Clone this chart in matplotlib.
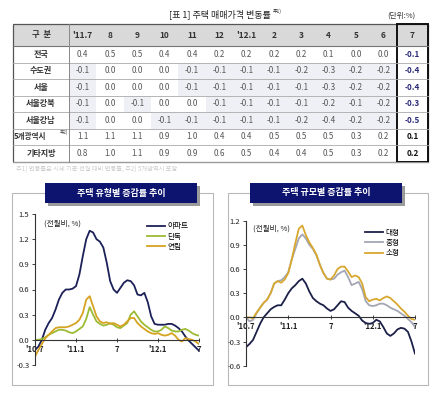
import numpy as np
import matplotlib
matplotlib.use('Agg')
import matplotlib.pyplot as plt
from matplotlib.patches import Rectangle

plt.rcParams['font.family'] = ['Noto Sans CJK KR', 'DejaVu Sans']

# table data
months = ["'11.7", "8", "9", "10", "11", "12", "'12.1", "2", "3", "4", "5", "6"]
last_month = "7"
regions = ["전국", "수도권", "서울", "서울강북", "서울강남", "5개광역시", "기타지방"]
table_vals = [
    [0.4, 0.5, 0.5, 0.4, 0.4, 0.2, 0.2, 0.2, 0.2, 0.1, 0.0, 0.0],
    [-0.1, 0.0, 0.0, 0.0, -0.1, -0.1, -0.1, -0.1, -0.2, -0.3, -0.2, -0.2],
    [-0.1, 0.0, 0.0, 0.0, -0.1, -0.1, -0.1, -0.1, -0.1, -0.3, -0.2, -0.2],
    [-0.1, 0.0, -0.1, 0.0, 0.0, -0.1, -0.1, -0.1, -0.1, -0.2, -0.1, -0.2],
    [-0.1, 0.0, 0.0, -0.1, -0.1, -0.1, -0.1, -0.1, -0.2, -0.4, -0.2, -0.2],
    [1.1, 1.1, 1.1, 0.9, 1.0, 0.4, 0.4, 0.5, 0.5, 0.5, 0.3, 0.2],
    [0.8, 1.0, 1.1, 0.9, 0.9, 0.6, 0.5, 0.4, 0.4, 0.5, 0.3, 0.2],
]
last_vals = [-0.1, -0.4, -0.4, -0.3, -0.5, 0.1, 0.2]

# chart data, read every half month from '10.7 to '12.7
tick_pos = [0, 6, 12, 18, 24]
tick_labels = ["'10.7", "'11.1", "7", "'12.1", "7"]

apt = [-0.12, -0.08, 0.0, 0.12, 0.2, 0.26, 0.36, 0.48, 0.56, 0.6, 0.6, 0.61, 0.64,
       0.78, 1.0, 1.2, 1.3, 1.28, 1.2, 1.17, 1.1, 0.92, 0.7, 0.6, 0.56, 0.62, 0.68,
       0.71, 0.7, 0.65, 0.54, 0.53, 0.56, 0.45, 0.28, 0.19, 0.18, 0.18, 0.18, 0.19,
       0.19, 0.17, 0.14, 0.1, 0.04, -0.01, -0.05, -0.09, -0.13]
house = [0.0, 0.0, 0.01, 0.03, 0.06, 0.08, 0.1, 0.12, 0.12, 0.11, 0.09, 0.08, 0.1,
         0.13, 0.16, 0.25, 0.39, 0.3, 0.22, 0.19, 0.17, 0.18, 0.2, 0.18, 0.15, 0.14,
         0.17, 0.2, 0.3, 0.34, 0.28, 0.22, 0.18, 0.15, 0.12, 0.1, 0.1, 0.12, 0.16,
         0.14, 0.11, 0.1, 0.1, 0.12, 0.13, 0.11, 0.08, 0.06, 0.05]
row_house = [-0.2, -0.12, -0.05, 0.02, 0.06, 0.1, 0.14, 0.15, 0.15, 0.15, 0.16, 0.18,
             0.2, 0.24, 0.32, 0.48, 0.52, 0.4, 0.28, 0.22, 0.2, 0.21, 0.19, 0.2, 0.18,
             0.16, 0.18, 0.22, 0.26, 0.26, 0.2, 0.16, 0.13, 0.1, 0.08, 0.07, 0.08, 0.06,
             0.05, 0.06, 0.08, 0.05, 0.0, -0.02, 0.02, 0.01, 0.0, -0.02, -0.05]

large = [-0.37, -0.33, -0.28, -0.18, -0.08, 0.0, 0.05, 0.1, 0.13, 0.15, 0.15, 0.22,
         0.3, 0.36, 0.4, 0.45, 0.48, 0.42, 0.32, 0.24, 0.2, 0.17, 0.15, 0.11, 0.08,
         0.1, 0.15, 0.2, 0.19, 0.12, 0.08, 0.05, 0.02, -0.04, -0.07, -0.08, -0.07,
         -0.03, -0.05, -0.12, -0.2, -0.23, -0.2, -0.15, -0.13, -0.14, -0.18, -0.3, -0.45]
medium = [0.0, -0.05, -0.03, 0.05, 0.12, 0.18, 0.22, 0.3, 0.42, 0.45, 0.46, 0.5,
          0.56, 0.72, 0.85, 0.98, 1.03, 0.98, 0.9, 0.85, 0.77, 0.65, 0.55, 0.48, 0.47,
          0.48, 0.53, 0.56, 0.58, 0.5, 0.4, 0.42, 0.44, 0.35, 0.2, 0.15, 0.14, 0.15,
          0.17, 0.17, 0.15, 0.12, 0.1, 0.08, 0.05, 0.02, -0.02, -0.06, -0.12]
small = [0.0, 0.0, -0.01, 0.06, 0.12, 0.18, 0.22, 0.3, 0.42, 0.45, 0.43, 0.47, 0.55,
         0.72, 0.92, 1.1, 1.14, 1.02, 0.93, 0.86, 0.78, 0.65, 0.55, 0.48, 0.47, 0.52,
         0.6, 0.63, 0.63, 0.57, 0.5, 0.52, 0.5, 0.42, 0.25, 0.2, 0.22, 0.23, 0.21,
         0.24, 0.26, 0.24, 0.2, 0.16, 0.11, 0.07, 0.02, -0.02, -0.03]

t = np.arange(len(apt)) / 2.0

W, H = 440, 393
fig = plt.figure(figsize=(W / 100, H / 100), dpi=100)

# background layer in pixel coordinates
bg = fig.add_axes([0, 0, 1, 1])
bg.set_xlim(0, W)
bg.set_ylim(H, 0)
bg.axis('off')

# table title
bg.text(220, 14, "[표 1] 주택 매매가격 변동률", ha='center', va='center', fontsize=6.5, color='#222222')
bg.text(273, 11, "주1)", ha='left', va='center', fontsize=3.5, color='#222222')
bg.text(401, 16, "(단위:%)", ha='center', va='center', fontsize=5.5, color='#333333')

x0, x1 = 13, 428
first_w = 56
last_x = 397
col_w = (last_x - (x0 + first_w)) / len(months)
head_top, head_bot = 24, 46
row_h = 16.5
tab_bot = head_bot + row_h * len(regions)

bg.add_patch(Rectangle((x0, head_top), x1 - x0, head_bot - head_top, facecolor='#d9d9d9', edgecolor='none'))
for i, row in enumerate(table_vals):
    yc = head_bot + row_h * (i + 0.5)
    for j, v in enumerate(row):
        cx = x0 + first_w + col_w * (j + 0.5)
        if v < 0:
            bg.add_patch(Rectangle((cx - col_w / 2, yc - row_h / 2), col_w, row_h,
                                   facecolor='#eef0f5', edgecolor='none'))
        bg.text(cx, yc, "%.1f" % v, ha='center', va='center', fontsize=5.8, color='#555555')
    lv = last_vals[i]
    bg.text((last_x + x1) / 2, yc, "%.1f" % lv, ha='center', va='center', fontsize=5.8,
            fontweight='bold', color='#2b2b7a' if lv < 0 else '#111111')
    name = regions[i]
    if name == "5개광역시":
        bg.text(x0 + 1, yc, name, ha='left', va='center', fontsize=5.5,
                fontweight='bold', color='#333333')
        bg.text(x0 + first_w - 1, yc - 4, "주2)", ha='right', va='center', fontsize=3.3,
                color='#333333')
    else:
        bg.text(x0 + first_w / 2, yc, name, ha='center', va='center', fontsize=5.8,
                fontweight='bold', color='#333333')
    bg.plot([x0, x1], [head_bot + row_h * (i + 1)] * 2, color='#aaaaaa', lw=0.6)

# header row
hy = (head_top + head_bot) / 2
bg.text(x0 + first_w / 2, hy, "구  분", ha='center', va='center', fontsize=6, fontweight='bold', color='#333333')
for j, m in enumerate(months):
    bg.text(x0 + first_w + col_w * (j + 0.5), hy, m, ha='center', va='center', fontsize=6,
            fontweight='bold', color='#333333')
bg.text((last_x + x1) / 2, hy, last_month, ha='center', va='center', fontsize=6, fontweight='bold', color='#333333')

bg.plot([x0, x1], [head_bot, head_bot], color='#777777', lw=0.8)
bg.plot([x0 + first_w] * 2, [head_top, tab_bot], color='#888888', lw=0.7)
bg.add_patch(Rectangle((x0, head_top), x1 - x0, tab_bot - head_top, facecolor='none', edgecolor='#555555', lw=0.9))
bg.add_patch(Rectangle((last_x, head_top), x1 - last_x, tab_bot - head_top, facecolor='none', edgecolor='#111111', lw=1.4))

# faint footnote under table
bg.text(16, 170, "주1) 변동률은 시세 기준 전월 대비 변동률, 주2) 5개광역시 포함", ha='left', va='center',
        fontsize=4.5, color='#cccccc')

# chart frames and title boxes
for fx0, fx1, bx0, bx1, title in [(12, 213, 45, 197, "주택 유형별 증감률 추이"),
                                   (228, 428, 250, 402, "주택 규모별 증감률 추이")]:
    bg.add_patch(Rectangle((fx0, 193), fx1 - fx0, 192, facecolor='white', edgecolor='#b8b8b8', lw=0.8))
    bg.add_patch(Rectangle((bx0 + 3, 186), bx1 - bx0, 20, facecolor='#9a9a9a', edgecolor='none'))
    bg.add_patch(Rectangle((bx0, 183), bx1 - bx0, 20, facecolor='#0c1470', edgecolor='none'))
    bg.text((bx0 + bx1) / 2, 193, title, ha='center', va='center', fontsize=6.5, color='white', fontweight='bold')


def setup_axes(ax, ymin, ymax, yticks):
    ax.set_xlim(0, 24)
    ax.set_ylim(ymin, ymax)
    ax.patch.set_alpha(0)
    ax.spines['top'].set_visible(False)
    ax.spines['right'].set_visible(False)
    ax.spines['bottom'].set_position(('data', 0))
    ax.spines['bottom'].set_color('#333333')
    ax.spines['left'].set_color('#333333')
    ax.spines['bottom'].set_linewidth(0.8)
    ax.spines['left'].set_linewidth(0.8)
    ax.set_xticks(tick_pos)
    ax.set_xticklabels(tick_labels)
    ax.set_yticks(yticks)
    ax.set_yticklabels(["%.1f" % v for v in yticks])
    ax.tick_params(axis='both', labelsize=5.5, colors='#222222', length=2, width=0.6, pad=2)
    ax.tick_params(axis='x', direction='inout', length=3)
    for lab in ax.get_xticklabels():
        lab.set_fontweight('bold')


# left chart: by type
ax1 = fig.add_axes([35 / W, (H - 365) / H, 164 / W, 151 / H])
setup_axes(ax1, -0.3, 1.5, [-0.3, 0.0, 0.3, 0.6, 0.9, 1.2, 1.5])
ax1.plot(t, apt, color='#1c2058', lw=1.3, label="아파트")
ax1.plot(t, house, color='#9cbb34', lw=1.3, label="단독")
ax1.plot(t, row_house, color='#d6a322', lw=1.3, label="연립")
ax1.text(1.3, 1.38, "(전월비, %)", fontsize=5.5, color='#222222', va='center')
ax1.legend(loc='upper left', bbox_to_anchor=(0.66, 0.97), frameon=False, fontsize=5.5,
           handlelength=2.4, handletextpad=0.3, labelspacing=0.3, borderpad=0)

# right chart: by size
ax2 = fig.add_axes([246 / W, (H - 365.7) / H, 169 / W, 145 / H])
setup_axes(ax2, -0.6, 1.2, [-0.6, -0.3, 0.0, 0.3, 0.6, 0.9, 1.2])
ax2.plot(t, large, color='#1c2048', lw=1.3, label="대형")
ax2.plot(t, medium, color='#a4a6b4', lw=1.3, label="중형")
ax2.plot(t, small, color='#d8a82e', lw=1.3, label="소형")
ax2.text(1.0, 1.1, "(전월비, %)", fontsize=5.5, color='#222222', va='center')
ax2.legend(loc='upper left', bbox_to_anchor=(0.68, 0.97), frameon=False, fontsize=5.5,
           handlelength=2.4, handletextpad=0.3, labelspacing=0.3, borderpad=0)

fig.savefig('out.png', dpi=100)
